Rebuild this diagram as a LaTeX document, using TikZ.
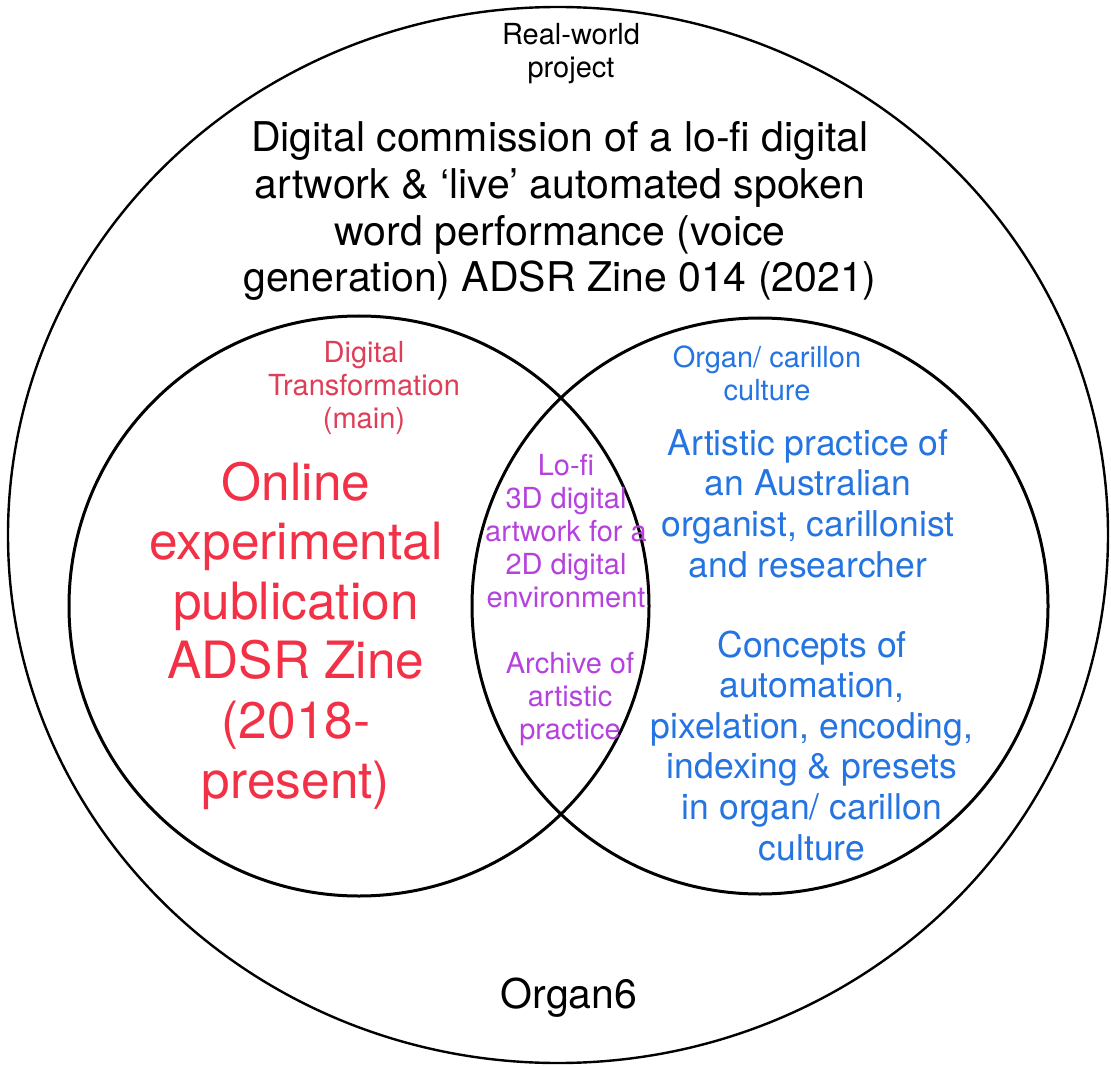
\documentclass[tikz,border=0pt]{standalone}
\usepackage{fontspec}
\setmainfont{TeX Gyre Heros}
\definecolor{bigred}{RGB}{242,48,70}
\definecolor{smallred}{RGB}{222,62,88}
\definecolor{lilac}{RGB}{182,66,222}
\definecolor{skyblue}{RGB}{36,116,226}
\tikzset{
  ring/.style={draw=black, line width=3pt},
  outerring/.style={draw=black, line width=2.4pt},
  lbl/.style={align=center, anchor=base, inner sep=0pt},
  fsmall/.style={font=\fontsize{29}{33}\selectfont},
  fbig/.style={font=\fontsize{41}{46.7}\selectfont},
  fred/.style={font=\fontsize{51.4}{59.6}\selectfont},
  fblue/.style={font=\fontsize{35.5}{40.6}\selectfont},
}
\begin{document}
\begin{tikzpicture}[x=1pt,y=-1pt]
\useasboundingbox[fill=white] (0,0) rectangle (1111,1067);
\draw[outerring] (558,535) ellipse [x radius=550pt, y radius=528pt];
\draw[ring] (359,606) circle [radius=290pt];
\draw[ring] (760,606) circle [radius=288pt];

% anchor=base is the baseline of the last line
\node[lbl,fsmall] (rw) at (571,78) {Real-world\\project};
\node[lbl,fbig] (dc) at (560,292) {Digital commission of a lo-fi digital\\artwork \& ‘live’ automated spoken\\word performance (voice\\generation) ADSR Zine 014 (2021)};
\node[lbl,fsmall,text=smallred] (dt) at (364,428) {Digital\\Transformation\\(main)};
\node[lbl,fred,text=bigred] (oe) at (296,798) {Online\\experimental\\publication\\ADSR Zine\\(2018-\\present)};
\node[lbl,fsmall,text=lilac] (lf) at (566,607) {Lo-fi\\3D digital\\artwork for a\\2D digital\\environment};
\node[lbl,fsmall,text=lilac] (ar) at (570,739) {Archive of\\artistic\\practice};
\node[lbl,fsmall,text=skyblue] (oc) at (767,400) {Organ/ carillon\\culture};
\node[lbl,fblue,text=skyblue] (ap) at (808,577) {Artistic practice of\\an Australian\\organist, carillonist\\and researcher};
\node[lbl,fblue,text=skyblue] (co) at (812,860) {Concepts of\\automation,\\pixelation, encoding,\\indexing \& presets\\in organ/ carillon\\culture};
\node[lbl,fbig] (o6) at (569,1008) {Organ6};
\end{tikzpicture}
\end{document}
